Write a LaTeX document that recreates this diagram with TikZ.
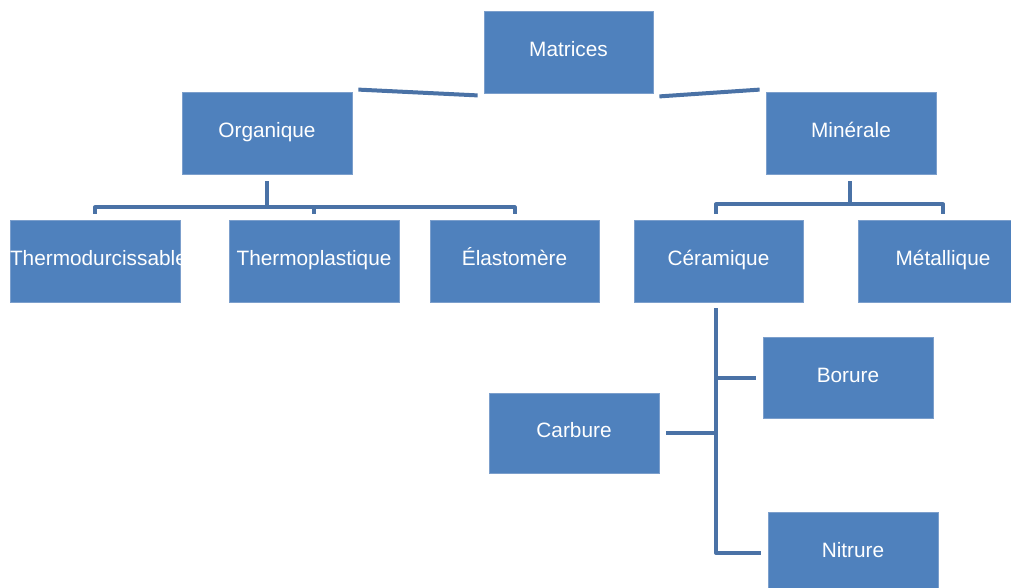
\documentclass[tikz,border=0pt]{standalone}
\usepackage{fontspec}
\setmainfont{Liberation Sans}
\definecolor{boxfill}{HTML}{4F81BD}
\definecolor{boxline}{HTML}{7C9FCC}
\definecolor{connline}{HTML}{4A72A6}
\begin{document}
\begin{tikzpicture}[x=1pt,y=-1pt,
  box/.style={draw=boxline,line width=0.8pt,fill=boxfill,minimum width=170pt,minimum height=82pt,
    inner sep=0pt,text height=14pt,text depth=5pt,text=white,font=\fontsize{20.8}{24}\selectfont},
  conn/.style={draw=connline,line width=4pt}]
\useasboundingbox (0,0) rectangle (1011,587);
\fill[white] (0,0) rectangle (1011,587);
\node[box,minimum width=169pt] (mat) at (568.5,52) {Matrices};
\node[box] (org) at (267,133) {Organique};
\node[box] (min) at (851,133) {Minérale};
\node[box,text width=170pt,align=center] (tdur) at (95,261) {Thermodurcissable};
\node[box] (tpla) at (314,261) {Thermoplastique};
\node[box,minimum width=169pt] (elas) at (514.5,261) {Élastomère};
\node[box,minimum width=169pt] (cer) at (718.5,261) {Céramique};
\node[box] (met) at (943,261) {Métallique};
\node[box,minimum height=81pt] (bor) at (848,377.5) {Borure};
\node[box,minimum height=80pt] (carb) at (574,433) {Carbure};
\node[box] (nit) at (853,553) {Nitrure};
% top connectors
\draw[conn] ([xshift=6pt,yshift=2pt]org.north east) -- ([xshift=-6pt,yshift=-2pt]mat.south west);
\draw[conn] ([xshift=6pt,yshift=-3pt]mat.south east) -- ([xshift=-6pt,yshift=2pt]min.north west);
% Organique tree
\coordinate (ob) at ([yshift=-33pt]org.south);
\draw[conn] ([yshift=-7pt]org.south) -- (ob);
\draw[conn,line join=round] ([yshift=6pt]tdur.north) |- (ob) -| ([yshift=6pt]elas.north);
\draw[conn] ([yshift=6pt]tpla.north) -- (tpla.north |- ob);
% Minerale tree
\coordinate (mb) at ([xshift=-1pt,yshift=-30pt]min.south);
\draw[conn] ([xshift=-1pt,yshift=-7pt]min.south) -- (mb);
\draw[conn,line join=round] ([xshift=-2.5pt,yshift=6pt]cer.north) |- (mb) -| ([yshift=6pt]met.north);
% Ceramique tree
\coordinate (cv) at ([xshift=-2.5pt,yshift=-6pt]cer.south);
\draw[conn,line join=round] (cv) |- ([xshift=-7pt]nit.west);
\draw[conn] ([xshift=7pt]carb.east) -- (cv |- carb.east);
\draw[conn] ([xshift=-7pt]bor.west) -- (cv |- bor.west);
\end{tikzpicture}
\end{document}
